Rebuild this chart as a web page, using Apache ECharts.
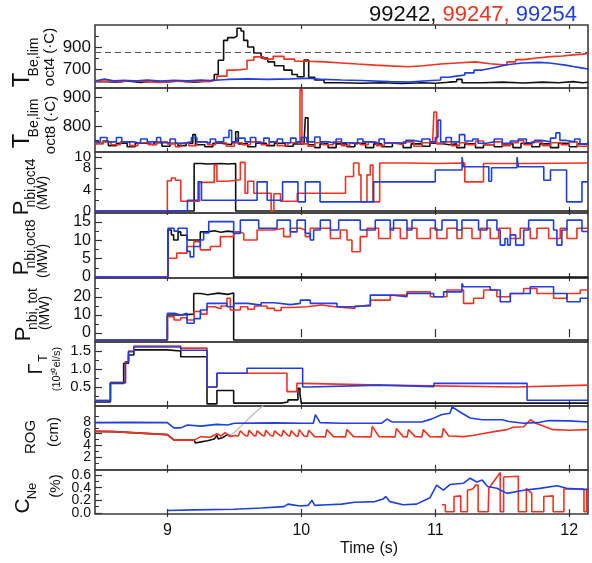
<!DOCTYPE html>
<html><head><meta charset="utf-8">
<script src="https://cdn.jsdelivr.net/npm/echarts@6/dist/echarts.min.js"></script>
<style>html,body{margin:0;padding:0;background:#fff}#c{width:592px;height:563px}</style>
</head><body><div id="c"></div>
<script>
// ---------------- DATA ----------------
const shots = ['99242', '99247', '99254'];
const timeTicks = [9, 10, 11, 12];
const tLimit = 850; // dashed limit, panel 1

// Panel 1: T_Be,lim oct4 (C)
const p1_black = [[8.46,585],[8.55,580],[8.62,590],[8.7,578],[8.8,588],[8.9,582],[9.0,590],[9.1,580],[9.2,588],[9.3,600],[9.35,650],[9.38,780],[9.42,960],[9.45,985],[9.5,1000],[9.52,1070],[9.55,1045],[9.57,960],[9.6,900],[9.645,845],[9.7,800],[9.75,765],[9.8,730],[9.87,690],[9.93,650],[9.97,630],[10.02,782],[10.055,625],[10.1,600],[10.17,575],[10.3,570],[10.45,575],[10.6,568],[10.75,575],[10.9,570],[11.0,580],[11.1,585],[11.16,605],[11.2,575],[11.35,580],[11.5,572],[11.66,580],[11.8,575],[11.92,585],[12.03,575],[12.1,580],[12.14,580]];
const p1_red = [[8.46,588],[8.56,582],[8.65,595],[8.72,585],[8.84,578],[8.95,590],[9.05,582],[9.15,590],[9.25,585],[9.31,600],[9.37,635],[9.445,690],[9.52,700],[9.595,780],[9.645,810],[9.72,790],[9.79,815],[9.87,790],[9.95,770],[10.05,765],[10.17,755],[10.3,745],[10.42,735],[10.55,728],[10.66,720],[10.8,730],[10.91,745],[11.04,755],[11.16,765],[11.3,748],[11.41,735],[11.535,765],[11.6,785],[11.66,800],[11.76,812],[11.86,818],[11.95,828],[12.03,835],[12.1,842],[12.14,845]];
const p1_blue = [[8.46,595],[8.48,608],[8.53,592],[8.6,598],[8.68,590],[8.75,600],[8.85,590],[8.95,597],[9.05,592],[9.15,600],[9.25,595],[9.32,605],[9.45,610],[9.6,605],[9.75,610],[9.92,615],[10.05,605],[10.17,600],[10.3,595],[10.45,585],[10.66,580],[10.8,590],[10.91,600],[11.04,625],[11.1,635],[11.16,645],[11.22,665],[11.29,690],[11.35,705],[11.41,720],[11.47,738],[11.535,755],[11.65,760],[11.78,755],[11.85,745],[11.91,735],[11.97,722],[12.03,710],[12.09,700],[12.14,690]];

// Panel 2: T_Be,lim oct8 (C)
const p2_black = [[8.46,740],[8.52,748],[8.56,732],[8.62,740],[8.7,728],[8.76,740],[8.84,735],[8.9,742],[8.96,730],[9.02,740],[9.08,732],[9.14,740],[9.19,770],[9.21,735],[9.28,728],[9.34,740],[9.4,735],[9.48,742],[9.51,780],[9.53,738],[9.6,728],[9.66,740],[9.74,732],[9.8,740],[9.88,730],[9.94,738],[10.02,740],[10.03,828],[10.05,735],[10.1,725],[10.14,738],[10.2,725],[10.26,738],[10.34,728],[10.4,740],[10.48,725],[10.54,738],[10.6,728],[10.68,740],[10.76,725],[10.82,738],[10.9,730],[10.96,740],[11.04,735],[11.1,738],[11.16,725],[11.22,738],[11.3,725],[11.36,735],[11.44,728],[11.5,738],[11.58,725],[11.64,740],[11.72,728],[11.78,738],[11.86,725],[11.92,740],[12.0,728],[12.06,738],[12.14,730]];
const p2_red = [[8.46,738],[8.52,745],[8.58,735],[8.65,745],[8.72,732],[8.78,742],[8.86,735],[8.92,745],[9.0,738],[9.06,728],[9.1,740],[9.16,732],[9.22,745],[9.3,735],[9.36,742],[9.44,730],[9.5,742],[9.56,735],[9.62,745],[9.7,735],[9.76,745],[9.82,732],[9.9,742],[9.97,738],[9.99,925],[10.005,738],[10.05,730],[10.1,742],[10.16,735],[10.24,745],[10.3,732],[10.36,742],[10.44,735],[10.5,745],[10.56,732],[10.62,740],[10.7,735],[10.76,745],[10.84,730],[10.9,742],[10.98,738],[10.99,848],[11.01,738],[11.06,745],[11.12,732],[11.18,742],[11.24,735],[11.3,748],[11.36,735],[11.44,745],[11.5,732],[11.56,742],[11.62,750],[11.66,735],[11.72,745],[11.8,732],[11.86,742],[11.94,735],[12.0,745],[12.06,730],[12.14,740]];
const p2_blue = [[8.46,745],[8.5,760],[8.55,745],[8.62,760],[8.66,745],[8.75,740],[8.8,755],[8.85,745],[8.92,760],[8.95,742],[9.02,755],[9.06,740],[9.12,745],[9.18,760],[9.22,745],[9.28,740],[9.32,755],[9.36,745],[9.42,760],[9.46,785],[9.48,745],[9.52,758],[9.58,745],[9.62,760],[9.66,742],[9.72,758],[9.76,745],[9.82,755],[9.86,742],[9.92,758],[9.96,745],[10.0,760],[10.04,745],[10.1,762],[10.14,745],[10.2,740],[10.26,755],[10.3,742],[10.36,738],[10.42,755],[10.46,745],[10.52,740],[10.58,755],[10.62,742],[10.7,740],[10.78,750],[10.84,745],[10.9,755],[10.96,745],[11.0,760],[11.02,820],[11.04,745],[11.08,760],[11.12,745],[11.18,770],[11.22,748],[11.28,755],[11.32,740],[11.38,745],[11.44,755],[11.5,740],[11.56,748],[11.62,755],[11.68,742],[11.74,750],[11.8,745],[11.86,758],[11.9,776],[11.93,750],[11.98,745],[12.04,755],[12.08,738],[12.14,745]];

// Panel 3: P_nbi,oct4 (MW)
const p3_black = [[8.46,0],[9.2,8.8],[9.25,8.7],[9.3,8.8],[9.4,8.7],[9.45,8.8],[9.51,0],[12.14,0]];
const p3_red = [[8.46,0],[9.0,5.6],[9.03,6.1],[9.06,5.7],[9.1,1.8],[9.24,5.3],[9.35,8.5],[9.37,5.5],[9.45,5.8],[9.545,9.0],[9.58,3.3],[9.6,5.5],[9.645,3.3],[9.775,0],[9.795,3.2],[9.845,1.8],[9.97,3.3],[10.33,6.4],[10.39,8.9],[10.43,6.7],[10.445,1.7],[10.49,6.7],[10.515,8.5],[10.535,1.7],[10.585,8.9],[10.8,8.8],[11.0,8.9],[11.22,5.4],[11.36,8.8],[11.7,8.9],[12.14,8.8]];
const p3_blue = [[8.46,0],[9.15,2.0],[9.23,5.4],[9.255,2.0],[9.67,5.4],[9.745,2.0],[9.86,5.4],[9.975,1.7],[10.03,5.4],[10.14,1.7],[10.54,5.4],[11.0,7.6],[11.2,10.0],[11.21,8.2],[11.4,5.5],[11.42,8.0],[11.61,10.0],[11.62,8.2],[11.81,5.7],[11.86,7.6],[11.98,1.7],[12.095,5.4],[12.14,5.4]];

// Panel 4: P_nbi,oct8 (MW)
const p4_black = [[8.46,0],[9.005,12.8],[9.03,11.5],[9.047,10.1],[9.08,12.3],[9.1,11.4],[9.147,10.1],[9.246,12.3],[9.3,12.6],[9.35,12.2],[9.4,12.5],[9.45,12.3],[9.495,0],[12.14,0]];
const p4_red = [[8.46,0],[9.005,5.1],[9.07,6.5],[9.147,8.3],[9.197,9.6],[9.246,7.4],[9.321,8.3],[9.396,11.0],[9.495,12.3],[9.545,11.9],[9.57,10.1],[9.67,12.8],[9.794,13.3],[9.868,11.0],[9.918,13.3],[9.993,12.8],[10.03,11.0],[10.067,13.3],[10.217,10.5],[10.291,12.8],[10.341,10.1],[10.378,6.9],[10.44,11.0],[10.49,13.3],[10.577,10.5],[10.664,13.3],[10.739,10.5],[10.789,13.3],[10.863,10.5],[10.963,13.3],[11.012,10.5],[11.087,13.3],[11.162,10.5],[11.199,13.3],[11.274,10.5],[11.336,13.3],[11.41,10.5],[11.473,13.3],[11.56,10.5],[11.634,13.3],[11.709,10.5],[11.759,13.3],[11.846,10.5],[11.933,13.3],[11.983,10.5],[12.057,13.3],[12.14,13.3]];
const p4_blue = [[8.46,0],[9.005,13.3],[9.05,12.5],[9.08,13.3],[9.147,7.0],[9.17,5.5],[9.197,8.3],[9.246,10.1],[9.271,12.0],[9.309,15.1],[9.495,11.9],[9.545,15.5],[9.682,13.3],[9.819,15.5],[9.918,12.3],[9.968,15.5],[10.03,11.9],[10.067,10.1],[10.092,12.8],[10.142,15.5],[10.217,12.8],[10.279,15.5],[10.44,12.8],[10.552,15.5],[10.664,12.8],[10.689,15.5],[10.789,12.8],[10.826,15.5],[11.0,12.8],[11.05,15.5],[11.162,12.8],[11.199,15.5],[11.323,12.8],[11.386,15.5],[11.46,12.8],[11.485,8.7],[11.52,10.5],[11.54,8.7],[11.56,11.5],[11.6,8.7],[11.66,12.8],[11.697,15.5],[11.883,12.8],[11.908,8.7],[11.945,12.8],[11.983,15.5],[12.095,12.4],[12.14,12.4]];

// Panel 5: P_nbi,tot (MW)
const p5_black = [[8.46,-3.9],[9.0,10],[9.1,10.5],[9.197,22],[9.25,21.3],[9.3,22.2],[9.38,21.5],[9.45,22.3],[9.495,-3.9],[12.14,-3.9]];
const p5_red = [[8.46,-3.9],[9.0,9.1],[9.05,7.2],[9.1,8.5],[9.147,7.2],[9.2,12],[9.25,10.5],[9.296,14.6],[9.35,13.5],[9.4,15],[9.445,19.3],[9.47,12.8],[9.545,14.6],[9.6,13.2],[9.65,15],[9.744,13.7],[9.8,12.5],[9.85,14.2],[9.918,14.6],[10.042,15.6],[10.15,14.5],[10.266,13.7],[10.4,15],[10.515,18.3],[10.664,21.1],[10.789,22.9],[10.963,20.2],[11.087,23.9],[11.211,16.5],[11.286,19.3],[11.361,23.9],[11.46,20.2],[11.56,22],[11.66,24.8],[11.759,22],[11.883,19.3],[11.983,22],[12.082,23.9],[12.14,23.9]];
const p5_blue = [[8.46,-3.9],[9.0,10.9],[9.06,10],[9.1,11],[9.147,5.4],[9.2,8],[9.246,12.8],[9.296,16.5],[9.445,14.6],[9.495,16.5],[9.6,15.5],[9.7,16.8],[9.8,15.8],[9.918,16.5],[9.993,18.3],[10.067,16.5],[10.266,14.6],[10.4,15.5],[10.515,21.1],[10.664,20.2],[10.789,22],[10.988,20.2],[11.062,22.9],[11.199,27.6],[11.211,25.7],[11.41,23.9],[11.485,17.4],[11.56,22],[11.709,25.7],[11.883,22],[11.983,17.4],[12.082,19.3],[12.14,19.3]];

// Panel 6: Gamma_T (1e20 el/s)
const p6_black = [[8.46,0.08],[8.575,0.6],[8.674,1.16],[8.71,1.39],[8.75,1.53],[9.0,1.5],[9.1,1.34],[9.296,0.03],[9.37,0.4],[9.495,0.05],[9.85,0.08],[9.9,0.14],[9.96,0.14],[9.975,0.46],[9.99,0.3],[10.0,0.05],[12.14,0.05]];
const p6_red = [[8.46,0.12],[8.575,0.62],[8.687,1.2],[8.71,1.5],[8.75,1.64],[9.1,1.58],[9.296,0.5],[9.37,0.88],[9.893,0.37],[9.967,0.6],[10.01,0.55],[10.6,0.5],[11.6,0.55],[12.14,0.55]];
const p6_blue = [[8.46,0.12],[8.575,0.62],[8.687,1.2],[8.71,1.48],[8.75,1.61],[9.1,1.52],[9.296,0.5],[9.37,0.88],[9.595,1.02],[10.01,0.5],[10.06,0.55],[10.59,0.51],[10.99,0.6],[11.685,0.13],[12.14,0.12]];

// Panel 7: ROG (cm)
const p7_black = [[8.46,6.4],[8.6,6.35],[8.8,6.1],[9.0,5.85],[9.05,4.9],[9.2,4.9],[9.21,4.4],[9.25,4.6],[9.3,4.8],[9.35,5.1],[9.37,5.7],[9.38,5.1],[9.42,5.4],[9.45,5.9],[9.47,5.6]];
const p7_red = [[8.46,6.4],[8.6,6.35],[8.8,6.1],[9.0,5.85],[9.05,4.9],[9.2,4.9],[9.25,5.5],[9.32,5.4],[9.37,6.0],[9.4,5.6],[9.43,6.2],[9.47,5.5],[9.5,5.7],[9.53,5.6],[9.545,6.5],[9.58,5.7],[9.6,5.6],[9.61,6.6],[9.645,5.7],[9.66,5.6],[9.67,6.5],[9.71,5.7],[9.725,5.6],[9.735,6.6],[9.77,5.7],[9.79,5.6],[9.8,6.5],[9.84,5.7],[9.855,5.6],[9.865,6.6],[9.9,5.7],[9.915,5.6],[9.925,6.5],[9.96,5.6],[9.975,5.55],[9.985,6.7],[10.02,5.6],[10.045,5.55],[10.055,6.6],[10.1,5.5],[10.18,5.45],[10.19,6.7],[10.24,5.5],[10.33,5.45],[10.34,6.7],[10.39,5.5],[10.52,5.45],[10.53,7.25],[10.58,5.5],[10.7,5.45],[10.71,6.9],[10.76,5.5],[10.79,5.45],[10.8,6.7],[10.85,5.5],[10.9,5.45],[10.91,6.7],[10.96,5.5],[11.05,5.45],[11.06,6.9],[11.1,5.6],[11.21,5.5],[11.28,5.7],[11.35,6.0],[11.45,6.4],[11.535,6.7],[11.58,7.1],[11.66,7.2],[11.71,8.4],[11.75,7.8],[11.81,7.3],[11.88,6.7],[12.0,6.6],[12.14,6.7]];
const p7_blue = [[8.46,7.9],[8.7,7.95],[9.0,7.9],[9.048,7.0],[9.1,7.0],[9.15,7.5],[9.25,7.3],[9.37,7.6],[9.45,7.5],[9.5,7.8],[9.8,7.85],[10.0,7.8],[10.09,7.8],[10.105,9.26],[10.14,7.9],[10.3,7.8],[10.6,7.8],[10.64,8.5],[10.68,8.0],[10.9,8.0],[10.97,8.5],[11.05,9.3],[11.11,9.5],[11.125,10.6],[11.2,9.5],[11.26,8.7],[11.35,8.4],[11.5,8.4],[11.55,8.1],[11.66,7.8],[11.78,7.95],[11.85,8.25],[12.0,8.2],[12.14,8.0]];
const p7_gray = [[9.45,5.5],[9.5,6.2],[9.55,7.3],[9.6,8.4],[9.65,9.5],[9.72,10.9]];

// Panel 8: C_Ne (%)
const p8_red = [[11.05,0.13],[11.075,0.13],[11.075,0.02],[11.14,0.02],[11.14,0.26],[11.19,0.27],[11.19,0.02],[11.24,0.02],[11.24,0.36],[11.28,0.38],[11.3,0.44],[11.32,0.44],[11.32,0.02],[11.395,0.02],[11.4,0.39],[11.485,0.64],[11.485,0.02],[11.51,0.02],[11.51,0.57],[11.62,0.58],[11.62,0.02],[11.68,0.02],[11.68,0.39],[11.72,0.31],[11.72,0.02],[11.81,0.02],[11.81,0.26],[11.88,0.27],[11.88,0.02],[11.96,0.02],[11.96,0.38],[12.11,0.38],[12.11,0.02],[12.13,0.02],[12.13,0.38],[12.14,0.38]];
const p8_blue = [[9.0,0.04],[9.2,0.05],[9.5,0.06],[9.7,0.08],[9.87,0.1],[9.9,0.14],[9.99,0.11],[10.05,0.12],[10.08,0.2],[10.1,0.12],[10.2,0.13],[10.3,0.14],[10.4,0.17],[10.55,0.18],[10.61,0.22],[10.63,0.26],[10.66,0.18],[10.76,0.13],[10.86,0.14],[10.96,0.24],[11.01,0.44],[11.06,0.36],[11.11,0.45],[11.21,0.47],[11.26,0.55],[11.31,0.49],[11.35,0.52],[11.39,0.42],[11.46,0.39],[11.535,0.31],[11.66,0.36],[11.78,0.39],[11.91,0.43],[11.98,0.39],[12.14,0.37]];

// Y tick labels per panel
const p1_ticks = [700, 900], p2_ticks = [800, 900], p3_ticks = [0, 4, 8, 10], p4_ticks = [0, 5, 10, 15];
const p5_ticks = [0, 10, 20], p6_ticks = [0.5, 1.0, 1.5], p7_ticks = [2, 4, 6, 8], p8_ticks = [0.0, 0.2, 0.4, 0.6];

// ---------------- LAYOUT / STYLE ----------------
const FONT = '"Liberation Sans", Arial, Helvetica, sans-serif';
const COL = { k: '#111111', r: '#ee3322', b: '#1f3fe0', g: '#bbbbbb' };
const XMIN = 8.46, XMAX = 12.14;
const panels = [
  { top: 25, h: 63, min: 527, max: 1100, ticks: p1_ticks, minor: [600, 800, 1000], fs: 17, step: 'end', lines: [[p1_black,'k'],[p1_red,'r'],[p1_blue,'b']] },
  { top: 88, h: 64, min: 710, max: 931, ticks: p2_ticks, minor: [750, 850], fs: 17, step: 'end', lines: [[p2_black,'k'],[p2_red,'r'],[p2_blue,'b']] },
  { top: 152, h: 61, min: -0.37, max: 10.93, ticks: p3_ticks, minor: [2, 6], fs: 15, step: 'end', lines: [[p3_black,'k'],[p3_red,'r'],[p3_blue,'b']] },
  { top: 213, h: 65, min: -0.27, max: 17.45, ticks: p4_ticks, minor: [2.5, 7.5, 12.5], fs: 16, step: 'end', lines: [[p4_black,'k'],[p4_red,'r'],[p4_blue,'b']] },
  { top: 278, h: 64, min: -5, max: 30.6, ticks: p5_ticks, minor: [5, 15, 25], fs: 16, step: 'end', lines: [[p5_black,'k'],[p5_red,'r'],[p5_blue,'b']] },
  { top: 342, h: 64, min: -0.03, max: 1.75, ticks: p6_ticks, minor: [0.25, 0.75, 1.25], fs: 15, fmt: 1, step: 'end', lines: [[p6_black,'k'],[p6_red,'r'],[p6_blue,'b']] },
  { top: 406, h: 64, min: -0.22, max: 10.75, ticks: p7_ticks, minor: [1, 3, 5, 7, 9], fs: 14, step: false, lines: [[p7_gray,'g'],[p7_black,'k'],[p7_red,'r'],[p7_blue,'b']] },
  { top: 470, h: 44, min: -0.016, max: 0.68, ticks: p8_ticks, minor: [0.1, 0.3, 0.5], fs: 14, fmt: 1, step: false, lines: [[p8_red,'r'],[p8_blue,'b']] }
];

const grid = [], xAxis = [], yAxis = [], series = [];
panels.forEach((p, i) => {
  grid.push({ left: 95, right: 4, top: p.top, height: p.h, show: true, borderColor: '#3c3c3c', borderWidth: 1.6, backgroundColor: 'transparent' });
  const last = i === panels.length - 1;
  ['bottom', 'top'].forEach(pos => {
    xAxis.push({
      gridIndex: i, type: 'value', min: XMIN, max: XMAX, position: pos,
      axisLine: { show: false }, splitLine: { show: false },
      axisTick: { show: true, inside: true, length: 4, customValues: timeTicks, lineStyle: { color: '#333', width: 1.2 } },
      axisLabel: { show: last && pos === 'bottom', customValues: timeTicks, fontSize: 16, color: '#111', fontFamily: FONT, margin: 9, showMinLabel: true, showMaxLabel: true }
    });
  });
  // labels are split between two axes (alternating) so that none of them is auto-hidden
  const labA = p.ticks.filter((_, k) => k % 2 === 0);
  const labB = p.ticks.filter((_, k) => k % 2 === 1);
  const fmt = v => p.fmt ? Number(v).toFixed(p.fmt) : String(v);
  const lab = vals => ({ show: vals.length > 0, customValues: vals, fontSize: p.fs, color: '#111', fontFamily: FONT, margin: 4,
    showMinLabel: true, showMaxLabel: true, formatter: fmt });
  yAxis.push({
    gridIndex: i, type: 'value', min: p.min, max: p.max, position: 'left',
    axisLine: { show: false }, splitLine: { show: false },
    axisTick: { show: true, inside: true, length: 7, customValues: p.ticks, lineStyle: { color: '#333', width: 1.2 } },
    axisLabel: lab(labA)
  });
  yAxis.push({
    gridIndex: i, type: 'value', min: p.min, max: p.max, position: 'left',
    axisLine: { show: false }, splitLine: { show: false },
    axisTick: { show: true, inside: true, length: 4, customValues: p.minor, lineStyle: { color: '#333', width: 1 } },
    axisLabel: lab(labB)
  });
  p.lines.forEach(([d, c], j) => {
    const s = {
      type: 'line', xAxisIndex: 2 * i, yAxisIndex: 2 * i, data: d, step: p.step, symbol: 'none',
      lineStyle: { color: COL[c], width: c === 'g' ? 1.2 : 1.6 }, itemStyle: { color: COL[c] },
      animation: false, silent: true, z: 2 + j
    };
    if (i === 0 && j === 0) {
      s.markLine = { silent: true, symbol: 'none', label: { show: false },
        lineStyle: { color: '#555', type: [6, 4], width: 1.2 }, data: [{ yAxis: tLimit }] };
    }
    series.push(s);
  });
});

function vt(x, y, text, size, extra) {
  return Object.assign({ type: 'text', x, y, rotation: Math.PI / 2, silent: true,
    style: { text, font: size + 'px ' + FONT, fill: '#111', textAlign: 'center', textVerticalAlign: 'middle' } }, extra || {});
}
const graphic = [
  vt(22, 80, 'T', 24), vt(34, 57, 'Be,lim', 14), vt(50, 57, 'oct4 (·C)', 15),
  vt(22, 141, 'T', 24), vt(34, 118, 'Be,lim', 14), vt(51, 125, 'oct8 (·C)', 15),
  vt(22, 208, 'P', 22), vt(31, 183, 'nbi,oct4', 14), vt(43, 193, '(MW)', 14),
  vt(22, 268, 'P', 22), vt(31, 244, 'nbi,oct8', 14), vt(43, 261, '(MW)', 14),
  vt(24, 334, 'P', 22), vt(33, 309, 'nbi, tot', 14), vt(45, 313, '(MW)', 14),
  vt(36, 369, 'Γ', 20), vt(44, 358, 'T', 12), vt(57, 369, '(10²⁰el/s)', 11),
  vt(31, 437, 'ROG', 15), vt(54, 432, '(cm)', 15),
  vt(23, 506, 'C', 21), vt(32, 491, 'Ne', 13), vt(56, 486, '(%)', 15),
  { type: 'text', x: 577, y: 15, silent: true, style: {
      text: '{a|' + shots[0] + ',} {b|' + shots[1] + ',} {c|' + shots[2] + '}',
      font: '22px ' + FONT, textAlign: 'right', textVerticalAlign: 'middle', fill: '#000',
      rich: { a: { fill: COL.k, font: '22px ' + FONT }, b: { fill: COL.r, font: '22px ' + FONT }, c: { fill: COL.b, font: '22px ' + FONT } } } },
  { type: 'text', x: 369, y: 549, silent: true, style: { text: 'Time (s)', font: '16px ' + FONT, fill: '#111', textAlign: 'center', textVerticalAlign: 'middle' } }
];

const chart = echarts.init(document.getElementById('c'), null, { renderer: 'canvas' });
chart.setOption({ animation: false, backgroundColor: '#fff', grid, xAxis, yAxis, series, graphic });
</script>
</body></html>
